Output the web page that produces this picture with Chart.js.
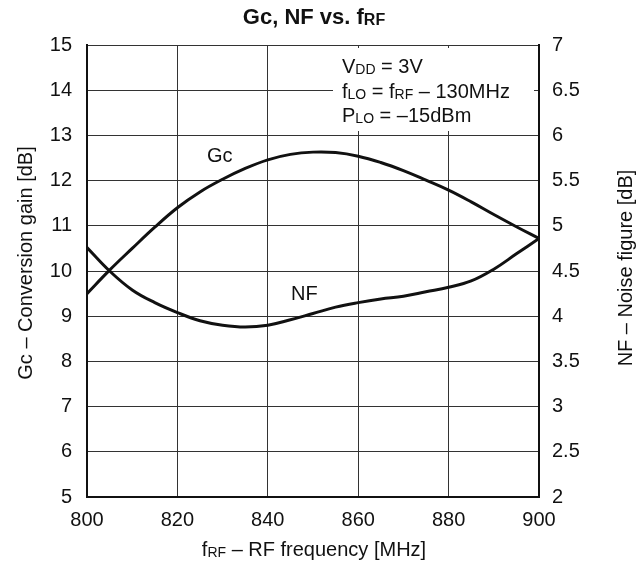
<!DOCTYPE html>
<html>
<head>
<meta charset="utf-8">
<script src="https://cdn.jsdelivr.net/npm/chart.js@4"></script>
<style>
  html, body { margin: 0; padding: 0; background: #fff; }
  #wrap { width: 637px; height: 567px; }
</style>
</head>
<body>
<div id="wrap"><canvas id="chart" width="637" height="567"></canvas></div>
<script>
// values
const freqMHz = [800, 805, 810, 815, 820, 825, 830, 835, 840, 845, 850, 855, 860, 865, 870, 875, 880, 885, 890, 895, 900];
const gcDb    = [9.5, 10.02, 10.5, 10.97, 11.4, 11.75, 12.03, 12.27, 12.46, 12.58, 12.63, 12.62, 12.54, 12.4, 12.22, 12.01, 11.79, 11.53, 11.25, 10.98, 10.72];
const nfDb    = [4.76, 4.5, 4.29, 4.15, 4.04, 3.95, 3.9, 3.88, 3.9, 3.96, 4.03, 4.1, 4.15, 4.19, 4.22, 4.27, 4.32, 4.39, 4.52, 4.69, 4.86];

const xTicks  = [800, 820, 840, 860, 880, 900];
const gcTicks = [5, 6, 7, 8, 9, 10, 11, 12, 13, 14, 15];
const nfTicks = [2, 2.5, 3, 3.5, 4, 4.5, 5, 5.5, 6, 6.5, 7];

const FONT = '"Liberation Sans", Arial, sans-serif';

// draw a run of [text, isSub] pieces starting at x
function drawRich(ctx, parts, x, y, size, bold, align) {
    const big = (bold ? 'bold ' : '') + size + 'px ' + FONT;
    const small = (bold ? 'bold ' : '') + Math.round(size * 0.72) + 'px ' + FONT;
    let total = 0;
    parts.forEach(p => { ctx.font = p[1] ? small : big; total += ctx.measureText(p[0]).width; });
    let cx = x;
    if (align === 'center') cx = x - total / 2;
    ctx.textBaseline = 'alphabetic';
    ctx.textAlign = 'left';
    parts.forEach(p => {
        ctx.font = p[1] ? small : big;
        ctx.fillText(p[0], cx, y + (p[1] ? 1 : 0));
        cx += ctx.measureText(p[0]).width;
    });
}

const textPlugin = {
    id: 'texts',
    beforeDatasetsDraw(chart) {
        // white box behind the conditions note
        const ctx = chart.ctx;
        ctx.save();
        ctx.fillStyle = '#fff';
        ctx.fillRect(333, 48, 201, 83);
        ctx.restore();
    },
    afterDraw(chart) {
        const ctx = chart.ctx;
        const a = chart.chartArea;
        ctx.save();
        ctx.fillStyle = '#111';

        // title
        drawRich(ctx, [['Gc, NF vs. f', false], ['RF', true]], 314, 24, 22, true, 'center');

        // conditions note
        drawRich(ctx, [['V', false], ['DD', true], [' = 3V', false]], 342, 73, 20, false);
        drawRich(ctx, [['f', false], ['LO', true], [' = f', false], ['RF', true], [' \u2013 130MHz', false]], 342, 98, 20, false);
        drawRich(ctx, [['P', false], ['LO', true], [' = \u201315dBm', false]], 342, 122, 20, false);

        // curve labels
        drawRich(ctx, [['Gc', false]], 207, 162, 20, false);
        drawRich(ctx, [['NF', false]], 291, 300, 20, false);

        // x axis title
        drawRich(ctx, [['f', false], ['RF', true], [' \u2013 RF frequency [MHz]', false]], 314, 556, 20, false, 'center');

        // left axis title
        ctx.save();
        ctx.translate(32, 263);
        ctx.rotate(-Math.PI / 2);
        drawRich(ctx, [['Gc \u2013 Conversion gain [dB]', false]], 0, 0, 20, false, 'center');
        ctx.restore();

        // right axis title
        ctx.save();
        ctx.translate(632, 268);
        ctx.rotate(-Math.PI / 2);
        drawRich(ctx, [['NF \u2013 Noise figure [dB]', false]], 0, 0, 20, false, 'center');
        ctx.restore();

        ctx.restore();
    }
};

const tickFont = { family: FONT, size: 20 };
const gridStyle = { color: '#333', lineWidth: 1, drawTicks: false };
const borderStyle = { color: '#111', width: 2 };

new Chart(document.getElementById('chart'), {
    type: 'line',
    data: {
        datasets: [
            {
                label: 'Gc',
                data: freqMHz.map((f, i) => ({ x: f, y: gcDb[i] })),
                yAxisID: 'y',
                borderColor: '#111',
                borderWidth: 3,
                pointRadius: 0,
                tension: 0.4,
                fill: false
            },
            {
                label: 'NF',
                data: freqMHz.map((f, i) => ({ x: f, y: nfDb[i] })),
                yAxisID: 'y2',
                borderColor: '#111',
                borderWidth: 3,
                pointRadius: 0,
                tension: 0.4,
                fill: false
            }
        ]
    },
    options: {
        responsive: false,
        animation: false,
        layout: { padding: { top: 45, left: 0, right: 0, bottom: 0 } },
        plugins: {
            legend: { display: false },
            tooltip: { enabled: false }
        },
        scales: {
            x: {
                type: 'linear',
                min: 800,
                max: 900,
                afterBuildTicks: s => { s.ticks = xTicks.map(v => ({ value: v })); },
                afterFit: s => { s.height = 70; },
                ticks: { font: tickFont, color: '#111', padding: 11, maxRotation: 0, callback: v => String(v) },
                grid: gridStyle,
                border: borderStyle
            },
            y: {
                position: 'left',
                min: 5,
                max: 15,
                afterBuildTicks: s => { s.ticks = gcTicks.map(v => ({ value: v })); },
                afterFit: s => { s.width = 87; },
                ticks: { font: tickFont, color: '#111', padding: 15, callback: v => String(v) },
                grid: gridStyle,
                border: borderStyle
            },
            y2: {
                position: 'right',
                min: 2,
                max: 7,
                afterBuildTicks: s => { s.ticks = nfTicks.map(v => ({ value: v })); },
                afterFit: s => { s.width = 98; },
                ticks: { font: tickFont, color: '#111', padding: 13, callback: v => String(v) },
                grid: { display: false, drawTicks: false },
                border: borderStyle
            }
        }
    },
    plugins: [textPlugin]
});
</script>
</body>
</html>
